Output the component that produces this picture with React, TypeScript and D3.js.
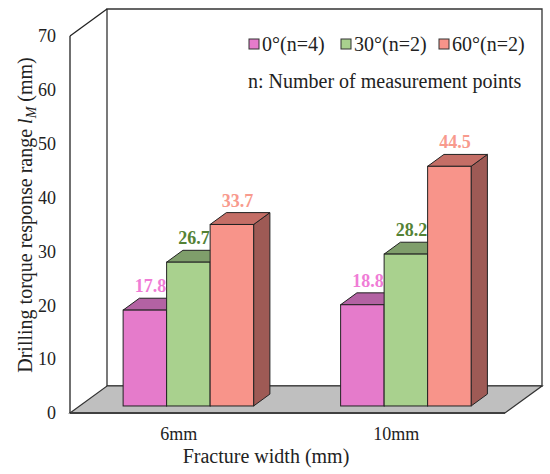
import React, { useRef, useEffect } from 'react';
import * as d3 from 'd3';

const categories = ['6mm', '10mm'];
const series = ['0°(n=4)', '30°(n=2)', '60°(n=2)'];
const values = [
  [17.8, 26.7, 33.7],
  [18.8, 28.2, 44.5],
];
const yTicks = [0, 10, 20, 30, 40, 50, 60, 70];

const front = ['#E57BCB', '#A9D18E', '#F8948A'];
const top = ['#B362A3', '#7F9E6B', '#C46E66'];
const side = ['#A0558F', '#6F8C5C', '#9E5A55'];
const labelColor = ['#F07CD6', '#548235', '#F89A8D'];

const FONT = '"Liberation Serif", "Times New Roman", serif';

export default function App() {
  const svgRef = useRef<SVGSVGElement>(null);

  useEffect(() => {
    if (!svgRef.current) return;
    const svg = d3.select(svgRef.current);
    svg.selectAll('*').remove();

    const left = 70, right = 505, bottom = 413, topY = 36;
    const depth = { dx: 37, dy: -27 };
    const d0 = 0.26, d1 = 0.7;

    const y = d3.scaleLinear().domain([0, 70]).range([bottom, topY]);
    const x = d3.scaleBand().domain(categories).range([left, right]).padding(0);
    const xs = d3.scaleBand().domain(series)
      .range([x.bandwidth() * 0.2, x.bandwidth() * 0.8]).padding(0);

    const line = (pts: [number, number][]) => d3.line()(pts) + '';
    const poly = (pts: [number, number][]) => d3.line()(pts) + 'Z';

    // back walls
    const bx0 = left + depth.dx, by0 = y(70) + depth.dy, byb = bottom + depth.dy, bx1 = right + depth.dx;
    svg.append('path')
      .attr('d', poly([[bx0, by0], [bx1, by0], [bx1, byb], [bx0, byb]]))
      .attr('fill', '#fff').attr('stroke', '#333').attr('stroke-width', 1.3);
    svg.append('path')
      .attr('d', line([[left, y(70)], [bx0, by0]]))
      .attr('stroke', '#222').attr('stroke-width', 1.3).attr('fill', 'none');

    // floor
    svg.append('path')
      .attr('d', poly([[left, bottom], [bx0, byb], [bx1, byb], [right, bottom]]))
      .attr('fill', '#BFBFBF').attr('stroke', '#333').attr('stroke-width', 1.2);
    svg.append('path')
      .attr('d', line([[left, bottom], [right, bottom]]))
      .attr('stroke', '#404040').attr('stroke-width', 2.2);

    // front y axis
    svg.append('path')
      .attr('d', line([[left, y(70)], [left, bottom]]))
      .attr('stroke', '#222').attr('stroke-width', 1.3);

    svg.append('g').selectAll('text').data(yTicks).enter().append('text')
      .attr('x', left - 14).attr('y', d => y(d)).attr('dy', '0.35em')
      .attr('text-anchor', 'end')
      .style('font-family', FONT).style('font-size', '18px').style('fill', '#222')
      .text(d => d);

    // bars
    const labels = svg.append('g');
    categories.forEach((c, ci) => {
      series.forEach((s, si) => {
        const v = values[ci][si];
        const fx0 = (x(c) || 0) + (xs(s) || 0) + d0 * depth.dx;
        const fx1 = fx0 + xs.bandwidth();
        const fyb = bottom + d0 * depth.dy;
        const fyt = y(v) + d0 * depth.dy;
        const ox = (d1 - d0) * depth.dx, oy = (d1 - d0) * depth.dy;
        const g = svg.append('g');
        g.append('path')
          .attr('d', poly([[fx1, fyb], [fx1, fyt], [fx1 + ox, fyt + oy], [fx1 + ox, fyb + oy]]))
          .attr('fill', side[si]).attr('stroke', '#222').attr('stroke-width', 1);
        g.append('path')
          .attr('d', poly([[fx0, fyt], [fx0 + ox, fyt + oy], [fx1 + ox, fyt + oy], [fx1, fyt]]))
          .attr('fill', top[si]).attr('stroke', '#222').attr('stroke-width', 1);
        g.append('rect')
          .attr('x', fx0).attr('y', fyt).attr('width', xs.bandwidth()).attr('height', fyb - fyt)
          .attr('fill', front[si]).attr('stroke', '#222').attr('stroke-width', 1);
        labels.append('text')
          .attr('x', (fx0 + fx1) / 2 + ox * 0.35).attr('y', fyt + oy - 6)
          .attr('text-anchor', 'middle')
          .style('font-family', FONT).style('font-size', '18px').style('font-weight', 'bold')
          .style('fill', labelColor[si])
          .text(v.toFixed(1));
      });
    });
    labels.raise();

    // category labels
    svg.append('g').selectAll('text').data(categories).enter().append('text')
      .attr('x', d => (x(d) || 0) + x.bandwidth() / 2).attr('y', 440)
      .attr('text-anchor', 'middle')
      .style('font-family', FONT).style('font-size', '18px').style('fill', '#222')
      .text(d => d);

    svg.append('text')
      .attr('x', 266).attr('y', 463).attr('text-anchor', 'middle')
      .style('font-family', FONT).style('font-size', '20px').style('fill', '#222')
      .text('Fracture width (mm)');

    const yt = svg.append('text')
      .attr('transform', 'translate(32,215) rotate(-90)').attr('text-anchor', 'middle')
      .style('font-family', FONT).style('font-size', '20px').style('fill', '#222');
    yt.append('tspan').text('Drilling torque response range ');
    yt.append('tspan').style('font-style', 'italic').text('l');
    yt.append('tspan').style('font-style', 'italic').style('font-size', '14px').attr('dy', 4).text('M');
    yt.append('tspan').attr('dy', -4).text(' (mm)');

    // legend
    const legX = [249, 341, 439];
    const leg = svg.append('g');
    series.forEach((s, i) => {
      leg.append('rect')
        .attr('x', legX[i]).attr('y', 39).attr('width', 10).attr('height', 10)
        .attr('fill', front[i]).attr('stroke', '#333').attr('stroke-width', 1);
      leg.append('text')
        .attr('x', legX[i] + 13).attr('y', 51)
        .style('font-family', FONT).style('font-size', '20px').style('fill', '#222')
        .text(s);
    });
    leg.append('text')
      .attr('x', 248).attr('y', 88)
      .style('font-family', FONT).style('font-size', '20px').style('fill', '#222')
      .text('n: Number of measurement points');
  }, []);

  return (
    <div style={{ position: 'absolute', left: 0, top: 0 }}>
      <svg ref={svgRef} width={550} height={474} style={{ display: 'block', background: '#fff' }} />
    </div>
  );
}
